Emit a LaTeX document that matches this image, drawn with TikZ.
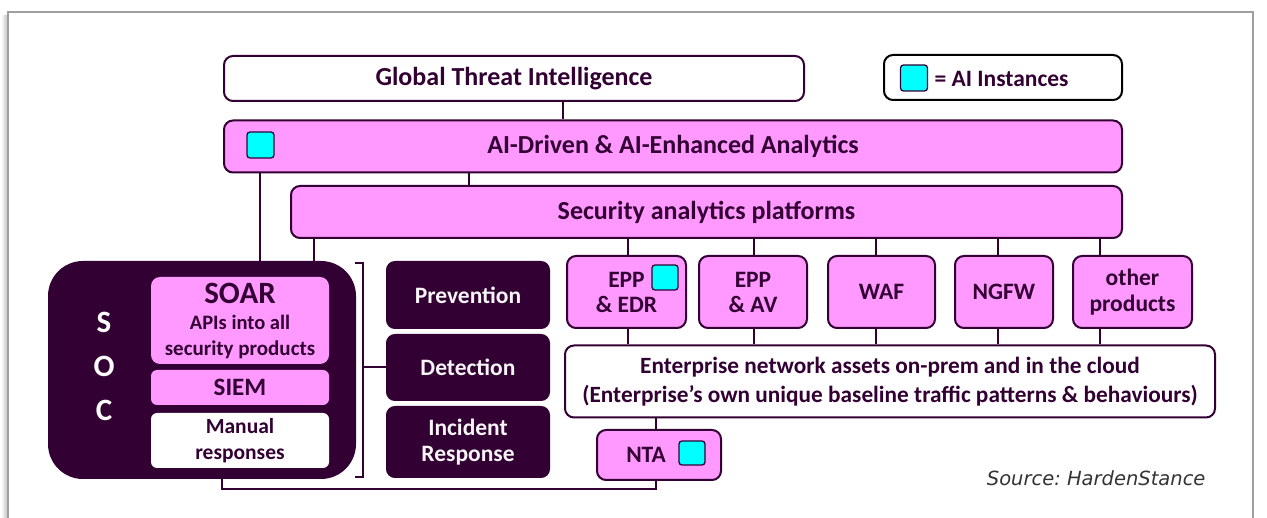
\documentclass[tikz,border=0pt]{standalone}
\usepackage{fontspec}
\setmainfont{Carlito}
\newfontfamily\srcfont{DejaVu Sans}
\usepackage{tikz}
\definecolor{plum}{HTML}{330033}
\definecolor{aipink}{HTML}{FF99FF}
\definecolor{aicyan}{HTML}{00FFFF}

\begin{document}
\begin{tikzpicture}[x=1pt,y=-1pt,
		box/.style={draw=plum,line width=2pt,rounded corners=9pt,text=plum,align=center,inner sep=0pt,font=\fontsize{23.5}{26}\selectfont\bfseries},
		pbox/.style={box,fill=aipink},
		wbox/.style={box,fill=white},
		dbox/.style={box,fill=plum,text=white!92!gray,rounded corners=8pt},
		bar/.style={font=\fontsize{26}{30}\selectfont\bfseries},
		aisq/.style={draw=plum,fill=aicyan,line width=1.3pt,rounded corners=3pt,minimum width=27pt,minimum height=26pt,inner sep=0pt},
		link/.style={draw=plum,line width=2pt}]
			\useasboundingbox (0,0) rectangle (1267,518);
			\shade[left color=white,right color=gray!55] (1,16) rectangle (8,518);
			\draw[gray!75,line width=1.5pt] (8,530) -- (8,12) -- (1253,12) -- (1253,530);
			\node[wbox,bar,minimum width=580pt,minimum height=45pt] (glob) at (514,78.5) {Global Threat Intelligence};
			\node[wbox,draw=black,minimum width=238pt,minimum height=45pt] (legend) at (1003,77.5) {};
			\node[aisq] (legsq) at (914,78) {};
			\node[anchor=west,text=plum,font=\fontsize{23.5}{26}\selectfont\bfseries] (legtxt) at (931,79) {= AI Instances};
			\node[pbox,bar,minimum width=898pt,minimum height=52pt] (ai) at (673,146.5) {AI-Driven \& AI-Enhanced Analytics};
			\node[aisq] (aisq1) at (260.5,145) {};
			\node[pbox,bar,minimum width=831pt,minimum height=52pt] (sec) at (706.5,212) {Security analytics platforms};
			\node[box,fill=plum,rounded corners=34pt,minimum width=306pt,minimum height=216pt] (soc) at (202,370) {};
			\foreach \l [count=\i] in {S,O,C}
				\node[text=white,font=\fontsize{31}{31}\selectfont\bfseries] (soc\l) at (104,{278+44*\i}) {\l};
			\node[pbox,draw=none,minimum width=178pt,minimum height=87pt] (soar) at (240,320.5) {\fontsize{31}{33}\selectfont SOAR\\[0pt]\fontsize{20.5}{22}\selectfont APIs into all\\\fontsize{21}{22}\selectfont security products};
			\node[pbox,draw=none,rounded corners=6pt,minimum width=178pt,minimum height=35pt,font=\fontsize{25}{28}\selectfont\bfseries] (siem) at (240,387.5) {SIEM};
			\node[wbox,draw=none,rounded corners=6pt,minimum width=178pt,minimum height=55pt,font=\fontsize{21.5}{26}\selectfont\bfseries] (manual) at (240,440.5) {Manual\\responses};
			\node[dbox,minimum width=162pt,minimum height=66pt] (prev) at (468,295) {Prevention};
			\node[dbox,minimum width=162pt,minimum height=65pt] (det) at (468,367.5) {Detection};
			\node[dbox,minimum width=162pt,minimum height=70pt] (inc) at (468,442) {Incident\\Response};
			\node[pbox,minimum width=119pt,minimum height=72pt,font=\fontsize{23.5}{25}\selectfont\bfseries] (eppedr) at (626.5,292) {EPP\\\& EDR};
			\node[aisq,minimum width=26pt,minimum height=25pt] (eppsq) at (665,277.5) {};
			\node[pbox,minimum width=108pt,minimum height=72pt,font=\fontsize{23.5}{25}\selectfont\bfseries] (eppav) at (753,292) {EPP\\\& AV};
			\node[pbox,minimum width=107pt,minimum height=72pt] (waf) at (881.5,292) {WAF};
			\node[pbox,minimum width=98pt,minimum height=72pt] (ngfw) at (1004,292) {NGFW};
			\node[pbox,minimum width=119pt,minimum height=72pt] (other) at (1132.5,292) {other\\products};
			\node[wbox,minimum width=650pt,minimum height=72pt,font=\fontsize{23.3}{29}\selectfont\bfseries] (ent) at (890,381.5) {Enterprise network assets on-prem and in the cloud\\(Enterprise's own unique baseline traffic patterns \& behaviours)};
			\node[pbox,minimum width=124pt,minimum height=50pt] (nta) at (659,455) {NTA\hspace{26pt}};
			\node[aisq,minimum width=26pt,minimum height=24pt] (ntasq) at (692,453) {};
			\node[anchor=east,text=black!80,font=\srcfont\itshape\fontsize{19.5}{22}\selectfont] (src) at (1209,478) {Source:\ HardenStance};
			\draw[link] (563,0 |- glob.south) -- (563,0 |- ai.north);
			\draw[link] (469,0 |- ai.south) -- (469,0 |- sec.north);
			\draw[link] (260,0 |- ai.south) -- (260,0 |- soc.north);
			\draw[link] (314,0 |- sec.south) -- (314,0 |- soc.north);
			\foreach \n/\x in {eppedr/628,eppav/754,waf/876,ngfw/998,other/1100} {
				\draw[link] (\x,0 |- sec.south) -- (\x,0 |- \n.north);
				\draw[link] (\x,0 |- \n.south) -- (\x,0 |- ent.north);
			}
			\draw[link] (656,0 |- ent.south) -- (656,0 |- nta.north);
			\draw[link] (222,0 |- soc.south) -- (222,489) -- (656,489) -- (656,0 |- nta.south);
			\draw[link] (355,263) -- (363,263) -- (363,477) -- (355,477);
			\draw[link] (363,0 |- det.west) -- (det.west);
		\end{tikzpicture}
\end{document}
